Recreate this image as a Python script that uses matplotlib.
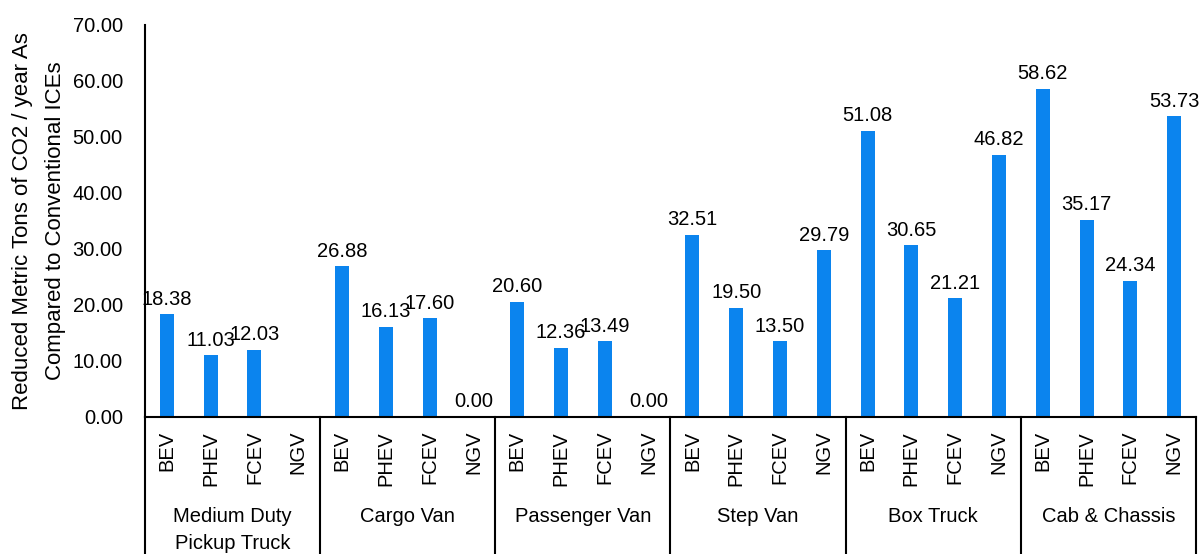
import numpy as np
import matplotlib.pyplot as plt
from matplotlib.lines import Line2D

plt.rcParams['font.family'] = ['Liberation Sans Narrow', 'Liberation Sans', 'DejaVu Sans']

groups = ["Medium Duty\nPickup Truck", "Cargo Van", "Passenger Van", "Step Van", "Box Truck", "Cab & Chassis"]
types = ["BEV", "PHEV", "FCEV", "NGV"]
medium_duty = [18.38, 11.03, 12.03, None]
cargo_van = [26.88, 16.13, 17.60, 0.00]
passenger_van = [20.60, 12.36, 13.49, 0.00]
step_van = [32.51, 19.50, 13.50, 29.79]
box_truck = [51.08, 30.65, 21.21, 46.82]
cab_chassis = [58.62, 35.17, 24.34, 53.73]

series = [medium_duty, cargo_van, passenger_van, step_van, box_truck, cab_chassis]
values = [v for g in series for v in g]
labels = types * len(groups)
x = np.arange(len(values))

fig = plt.figure(figsize=(12.01, 5.54), dpi=100)
ax = fig.add_axes([145/1201, 137/554, 1051/1201, 392/554])

heights = [0 if v is None else v for v in values]
ax.bar(x, heights, width=0.32, color='#0B84EE')
for xi, v in zip(x, values):
    if v is None:
        continue
    ax.annotate(f"{v:.2f}", (xi, v), xytext=(0, 4), textcoords='offset points',
                ha='center', va='bottom', fontsize=14.5)

ax.set_xlim(-0.5, len(values) - 0.5)
ax.set_ylim(0, 70)
ax.set_yticks(np.arange(0, 71, 10))
ax.set_yticklabels([f"{t:.2f}" for t in np.arange(0, 71, 10)], fontsize=14.5)
ax.tick_params(axis='y', length=0, pad=16)
ax.set_xticks(x)
ax.set_xticklabels(labels, rotation=90, fontsize=14.5, va='top')
ax.tick_params(axis='x', length=0, pad=10)

for s in ['top', 'right']:
    ax.spines[s].set_visible(False)
ax.spines['left'].set_linewidth(1.5)
ax.spines['bottom'].set_linewidth(1.5)

ax.set_ylabel("Reduced Metric Tons of CO2 / year As\nCompared to Conventional ICEs", fontsize=16,
              labelpad=5, linespacing=1.7)

# group separators and labels below the axis
bottom_frac = -137/392
for i in range(len(groups) + 1):
    xs = i * 4 - 0.5
    ax.add_line(Line2D([xs, xs], [0, bottom_frac * 70], color='black', lw=1.5, clip_on=False,
                       transform=ax.transData))
for i, g in enumerate(groups):
    ax.text(i * 4 + 1.5, -90/392 * 70, g, ha='center', va='top', fontsize=14.5,
            linespacing=1.55)

fig.savefig("out.png", dpi=100)
